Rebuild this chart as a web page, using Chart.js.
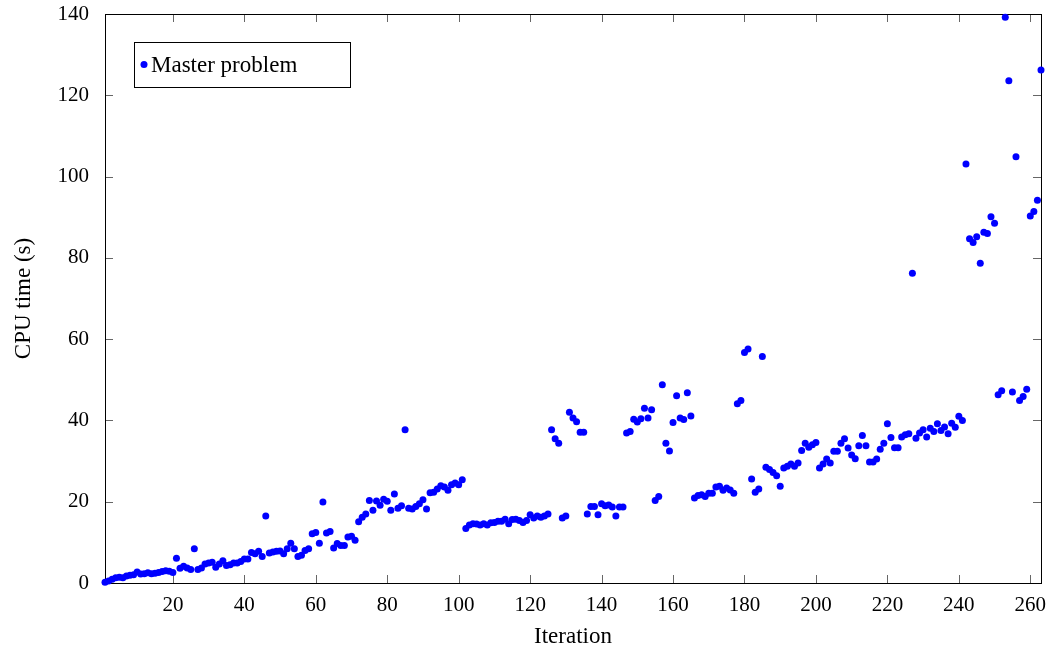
<!DOCTYPE html>
<html>
<head>
<meta charset="utf-8">
<script src="https://cdn.jsdelivr.net/npm/chart.js@4.4.0/dist/chart.umd.min.js"></script>
<style>
html, body { margin: 0; padding: 0; background: #fff; }
</style>
</head>
<body>
<canvas id="myChart" width="1052" height="653"></canvas>
<script>
// data
const seriesLabel = 'Master problem'
const xTitle = 'Iteration'
const yTitle = 'CPU time (s)'
const xTicks = [20, 40, 60, 80, 100, 120, 140, 160, 180, 200, 220, 240, 260]
const yTicks = [0, 20, 40, 60, 80, 100, 120, 140]
// cpu time per iteration, iteration 1..263
const cpuTime = [
    0.2, 0.5, 0.9, 1.3, 1.4, 1.3, 1.7, 1.9, 2.0, 2.7,
    2.2, 2.3, 2.5, 2.3, 2.4, 2.6, 2.8, 3.0, 2.9, 2.6,
    6.1, 3.6, 4.1, 3.7, 3.3, 8.4, 3.3, 3.7, 4.7, 4.9,
    5.1, 3.9, 4.7, 5.5, 4.3, 4.5, 4.9, 4.9, 5.3, 5.9,
    5.9, 7.5, 7.2, 7.8, 6.5, 16.5, 7.4, 7.6, 7.8, 7.9,
    7.2, 8.4, 9.8, 8.4, 6.5, 6.8, 8.0, 8.4, 12.1, 12.4,
    9.8, 19.9, 12.3, 12.7, 8.6, 9.7, 9.2, 9.2, 11.3, 11.5,
    10.5, 15.1, 16.2, 17.0, 20.3, 17.9, 20.2, 19.1, 20.6, 20.1,
    17.9, 21.9, 18.4, 19.0, 37.7, 18.4, 18.2, 18.8, 19.5, 20.5,
    18.2, 22.2, 22.3, 23.1, 23.9, 23.6, 22.8, 24.2, 24.6, 24.2,
    25.4, 13.4, 14.3, 14.6, 14.5, 14.3, 14.6, 14.3, 14.8, 14.9,
    15.2, 15.2, 15.7, 14.6, 15.6, 15.7, 15.4, 14.9, 15.4, 16.8,
    16.0, 16.5, 16.2, 16.5, 17.0, 37.7, 35.5, 34.4, 16.0, 16.5,
    42.0, 40.6, 39.7, 37.1, 37.1, 17.0, 18.8, 18.8, 16.8, 19.5,
    19.0, 19.2, 18.7, 16.5, 18.7, 18.7, 36.9, 37.3, 40.3, 39.6,
    40.4, 43.0, 40.6, 42.6, 20.3, 21.3, 48.8, 34.4, 32.5, 39.5,
    46.1, 40.6, 40.2, 46.8, 41.1, 20.9, 21.5, 21.7, 21.3, 22.1,
    22.1, 23.6, 23.8, 22.8, 23.4, 22.9, 22.1, 44.1, 44.9, 56.7,
    57.6, 25.6, 22.3, 23.1, 55.7, 28.5, 27.9, 27.2, 26.4, 23.8,
    28.3, 28.7, 29.3, 28.7, 29.5, 32.6, 34.4, 33.4, 34.0, 34.6,
    28.3, 29.3, 30.5, 29.5, 32.4, 32.4, 34.4, 35.5, 33.2, 31.5,
    30.6, 33.8, 36.3, 33.8, 29.8, 29.8, 30.5, 32.9, 34.4, 39.2,
    35.8, 33.3, 33.3, 35.9, 36.5, 36.7, 76.2, 35.6, 36.9, 37.7,
    35.9, 38.1, 37.3, 39.2, 37.5, 38.4, 36.7, 39.3, 38.3, 41.0,
    40.0, 103.1, 84.7, 83.8, 85.2, 78.7, 86.3, 86.0, 90.1, 88.5,
    46.3, 47.3, 139.2, 123.6, 47.0, 104.9, 44.9, 45.9, 47.7, 90.3,
    91.4, 94.2, 126.2
]

const FONT = "'Liberation Serif', 'DejaVu Serif', serif"
Chart.defaults.font.family = FONT
Chart.defaults.font.size = 21
Chart.defaults.color = '#000'

// frame + inward ticks like pgfplots
const axisBox = {
    id: 'axisBox',
    beforeDatasetsDraw(chart) {
        const {ctx, chartArea: a, scales} = chart
        const len = 8
        ctx.save()
        ctx.lineWidth = 1
        ctx.strokeStyle = '#666'
        ctx.beginPath()
        for (const v of xTicks) {
            const px = Math.round(scales.x.getPixelForValue(v)) + 0.5
            ctx.moveTo(px, a.bottom); ctx.lineTo(px, a.bottom - len)
            ctx.moveTo(px, a.top); ctx.lineTo(px, a.top + len)
        }
        for (const v of yTicks) {
            const py = Math.round(scales.y.getPixelForValue(v)) + 0.5
            ctx.moveTo(a.left, py); ctx.lineTo(a.left + len, py)
            ctx.moveTo(a.right, py); ctx.lineTo(a.right - len, py)
        }
        ctx.stroke()
        ctx.strokeStyle = '#000'
        ctx.strokeRect(Math.round(a.left) + 0.5, Math.round(a.top) + 0.5,
            Math.round(a.right - a.left), Math.round(a.bottom - a.top))
        ctx.restore()
    },
    afterDraw(chart) {
        // legend box in the upper left corner
        const {ctx, chartArea: a} = chart
        const bx = a.left + 29, by = a.top + 28, bw = 216, bh = 45
        ctx.save()
        ctx.fillStyle = '#fff'
        ctx.fillRect(bx, by, bw, bh)
        ctx.strokeStyle = '#000'
        ctx.lineWidth = 1
        ctx.strokeRect(bx + 0.5, by + 0.5, bw, bh)
        ctx.fillStyle = '#0000ff'
        ctx.beginPath()
        ctx.arc(bx + 10, by + bh / 2, 3.5, 0, Math.PI * 2)
        ctx.fill()
        ctx.fillStyle = '#000'
        ctx.font = '23px ' + FONT
        ctx.textBaseline = 'middle'
        ctx.fillText(seriesLabel, bx + 17, by + bh / 2 + 1)
        ctx.restore()
    }
}

const ctx = document.getElementById('myChart')

theChart = new Chart(ctx, {
    type: 'scatter',
    data: {
        datasets: [{
            label: seriesLabel,
            data: cpuTime.map((v, i) => ({x: i + 1, y: v})),
            backgroundColor: '#0000ff',
            borderColor: '#0000ff',
            borderWidth: 0,
            pointRadius: 3.5,
            clip: false
        }]
    },
    options: {
        responsive: false,
        animation: false,
        layout: { padding: { top: 14, right: 11, left: 0, bottom: 0 } },
        plugins: {
            legend: { display: false },
            tooltip: { enabled: false }
        },
        scales: {
            x: {
                type: 'linear',
                min: 1,
                max: 263,
                afterBuildTicks: (s) => { s.ticks = xTicks.map(v => ({value: v})) },
                afterFit: (s) => { s.height = 70; s.paddingLeft = 0; s.paddingRight = 0 },
                grid: { display: false, drawTicks: false },
                border: { display: false },
                ticks: { padding: 10, maxRotation: 0, autoSkip: false },
                title: { display: true, text: xTitle, font: { size: 23 }, padding: { top: 0, bottom: 2 } }
            },
            y: {
                min: 0,
                max: 140,
                afterBuildTicks: (s) => { s.ticks = yTicks.map(v => ({value: v})) },
                afterFit: (s) => { s.width = 105; s.paddingTop = 0; s.paddingBottom = 0 },
                grid: { display: false, drawTicks: false },
                border: { display: false },
                ticks: { padding: 16, autoSkip: false },
                title: { display: true, text: yTitle, font: { size: 23 }, padding: { top: 10, bottom: 8 } }
            }
        }
    },
    plugins: [axisBox]
})
</script>
</body>
</html>
